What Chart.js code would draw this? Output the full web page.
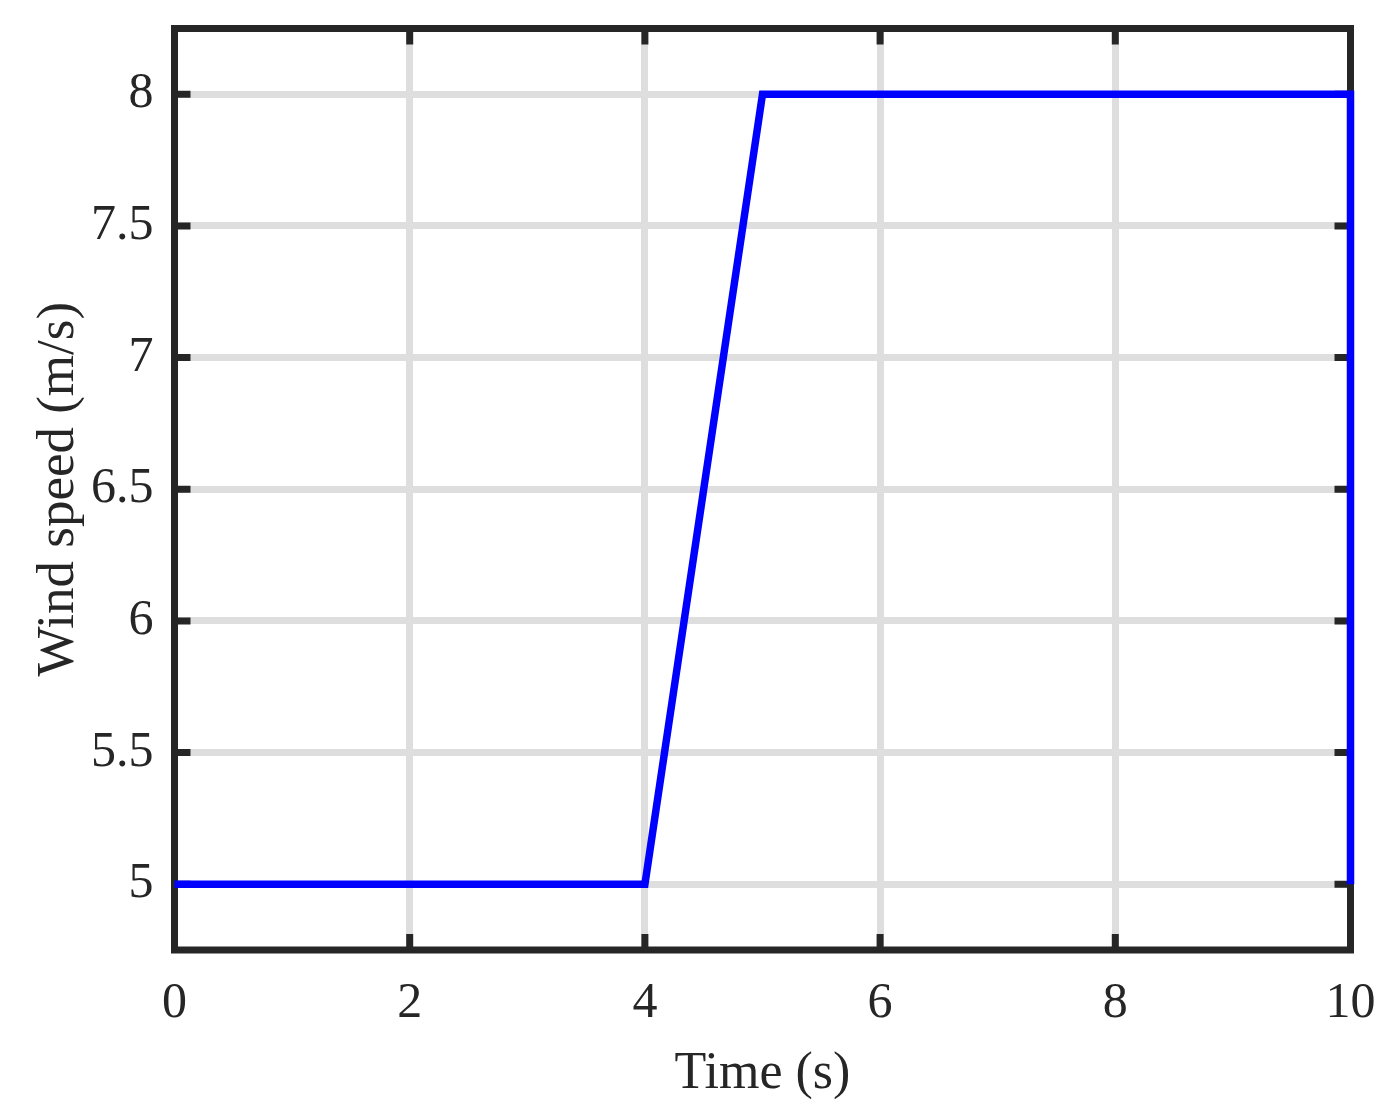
<!DOCTYPE html>
<html>
<head>
<meta charset="utf-8">
<title>Wind speed</title>
<script src="https://cdn.jsdelivr.net/npm/chart.js@4.4.0/dist/chart.umd.min.js"></script>
<style>
  html, body { margin: 0; padding: 0; background: #ffffff; }
  #wrap { width: 1388px; height: 1117px; }
</style>
</head>
<body>
<div id="wrap"><canvas id="windChart" width="1388" height="1117"></canvas></div>
<script>
// data
var timeValues = [0, 4, 5, 10, 10];
var windValues = [5, 5, 8, 8, 5];
var xTicks = [0, 2, 4, 6, 8, 10];
var yTicks = [5, 5.5, 6, 6.5, 7, 7.5, 8];

var axisColor = "#262626";
var fontFamily = "'Liberation Serif', 'Times New Roman', serif";

// matlab style box with inward tick marks
var boxPlugin = {
    id: "boxPlugin",
    beforeDatasetsDraw: function (chart) {
        var ctx = chart.ctx;
        var area = chart.chartArea;
        var xs = chart.scales.x;
        var ys = chart.scales.y;
        var tickLen = 16;
        ctx.save();
        ctx.strokeStyle = axisColor;
        ctx.lineWidth = 7;
        ctx.lineCap = "butt";
        ctx.beginPath();
        xTicks.forEach(function (v) {
            var px = xs.getPixelForValue(v);
            ctx.moveTo(px, area.bottom);
            ctx.lineTo(px, area.bottom - tickLen);
            ctx.moveTo(px, area.top);
            ctx.lineTo(px, area.top + tickLen);
        });
        yTicks.forEach(function (v) {
            var py = ys.getPixelForValue(v);
            ctx.moveTo(area.left, py);
            ctx.lineTo(area.left + tickLen, py);
            ctx.moveTo(area.right, py);
            ctx.lineTo(area.right - tickLen, py);
        });
        ctx.stroke();
        ctx.lineJoin = "miter";
        ctx.strokeRect(area.left, area.top, area.right - area.left, area.bottom - area.top);
        ctx.restore();
    }
};

var ctx = document.getElementById("windChart").getContext("2d");
new Chart(ctx, {
    type: "scatter",
    data: {
        datasets: [
            {
                label: "Wind speed",
                data: timeValues.map(function (t, i) { return { x: t, y: windValues[i] }; }),
                showLine: true,
                borderColor: "#0000ff",
                borderWidth: 7.5,
                pointRadius: 0,
                tension: 0,
                clip: false,
            },
        ],
    },
    options: {
        responsive: false,
        animation: false,
        layout: {
            padding: { top: 28.5, right: 37.5, left: 0, bottom: 0 },
        },
        plugins: {
            legend: { display: false },
            tooltip: { enabled: false },
        },
        scales: {
            x: {
                type: "linear",
                min: 0,
                max: 10,
                afterBuildTicks: function (scale) {
                    scale.ticks = xTicks.map(function (v) { return { value: v }; });
                },
                afterFit: function (scale) {
                    scale.height = 167;
                    scale.paddingLeft = 0;
                    scale.paddingRight = 0;
                },
                grid: {
                    color: "#dedede",
                    lineWidth: 7,
                    drawTicks: false,
                },
                border: { display: false },
                ticks: {
                    color: axisColor,
                    padding: 24,
                    maxRotation: 0,
                    font: { family: fontFamily, size: 50 },
                    callback: function (v) { return String(v); },
                },
                title: {
                    display: true,
                    text: "Time (s)",
                    color: axisColor,
                    font: { family: fontFamily, size: 52, lineHeight: 1.2 },
                    padding: { top: 0, bottom: 11 },
                },
            },
            y: {
                type: "linear",
                min: 4.75,
                max: 8.25,
                afterBuildTicks: function (scale) {
                    scale.ticks = yTicks.map(function (v) { return { value: v }; });
                },
                afterFit: function (scale) {
                    scale.width = 174.5;
                    scale.paddingTop = 0;
                    scale.paddingBottom = 0;
                },
                grid: {
                    color: "#dedede",
                    lineWidth: 7,
                    drawTicks: false,
                },
                border: { display: false },
                ticks: {
                    color: axisColor,
                    padding: 21,
                    font: { family: fontFamily, size: 50 },
                    callback: function (v) { return String(v); },
                },
                title: {
                    display: true,
                    text: "Wind speed (m/s)",
                    color: axisColor,
                    font: { family: fontFamily, size: 53, lineHeight: 1.2 },
                    padding: { top: 27, bottom: 0 },
                },
            },
        },
    },
    plugins: [boxPlugin],
});
</script>
</body>
</html>
